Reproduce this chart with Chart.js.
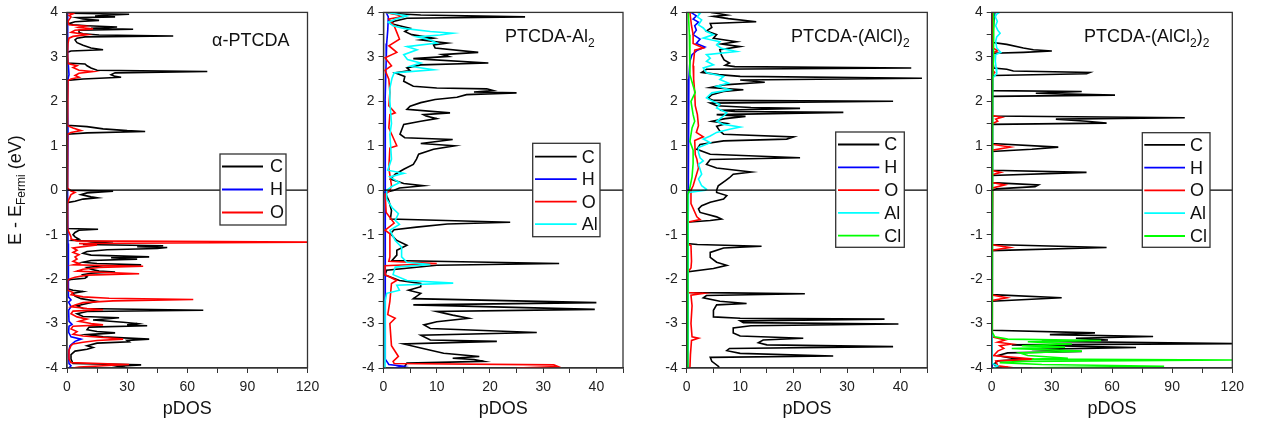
<!DOCTYPE html>
<html>
<head>
<meta charset="utf-8">
<title>pDOS</title>
<script src="https://cdn.jsdelivr.net/npm/chart.js@4.4.1/dist/chart.umd.min.js"></script>
<style>
    body { margin: 0; background: #fff; width: 1261px; height: 421px; overflow: hidden; position: relative; }
    canvas { position: absolute; top: 0; }
</style>
</head>
<body>
<canvas id="panel1"></canvas>
<canvas id="panel2"></canvas>
<canvas id="panel3"></canvas>
<canvas id="panel4"></canvas>
<script>
// Each series is a list of [energy (eV), pDOS] pairs, top (E = 4) to bottom (E = -4)

// ---- alpha-PTCDA ----
const alphaC = [[4.0,0],[3.98,2],[3.96,31],[3.94,22],[3.92,14],[3.9,24],[3.88,5],[3.85,8],[3.82,16],[3.79,4],[3.75,1],[3.72,3],[3.7,10],[3.67,25],[3.64,12],[3.62,33],[3.6,6],[3.55,6],[3.52,8],[3.49,16],[3.47,53],[3.45,9],[3.42,5],[3.38,4],[3.32,5],[3.26,8],[3.2,12],[3.16,18],[3.13,2],[3.1,0],
    [2.86,0],[2.84,9],[2.8,10],[2.75,12],[2.7,15],[2.67,70],[2.64,24],[2.6,22],[2.56,24],[2.54,27],[2.5,8],[2.47,0],
    [1.46,0],[1.43,10],[1.38,18],[1.34,30],[1.32,39],[1.29,10],[1.26,0],
    [0.02,0],[0,2],[-0.02,23],[-0.06,10],[-0.1,7],[-0.15,12],[-0.17,15],[-0.2,8],[-0.25,4],[-0.28,0],
    [-0.86,0],[-0.88,15.5],[-0.9,6],[-0.95,4],[-1.0,3],[-1.05,4],[-1.1,6],[-1.13,3],[-1.16,23],[-1.19,12],[-1.22,8],[-1.25,48],[-1.27,35],[-1.29,50],[-1.31,45],[-1.34,20],[-1.38,10],[-1.42,8],[-1.46,12],[-1.5,41],[-1.52,22],[-1.55,35],[-1.58,12],[-1.62,8],[-1.65,15],[-1.68,37],[-1.7,18],[-1.74,10],[-1.78,12],[-1.82,16],[-1.84,24],[-1.87,12],[-1.9,8],[-1.95,10],[-1.98,9],[-2.01,2],[-2.03,0],
    [-2.22,0],[-2.25,3],[-2.28,8],[-2.32,3],[-2.38,4],[-2.44,7],[-2.5,15],[-2.55,10],[-2.6,5],[-2.66,8],[-2.7,68],[-2.73,10],[-2.78,5],[-2.84,8],[-2.87,26],[-2.92,13],[-2.97,28],[-3.0,35],[-3.03,30],[-3.05,40],[-3.08,11],[-3.14,10],[-3.18,15],[-3.21,24],[-3.25,10],[-3.3,18],[-3.35,41],[-3.38,30],[-3.41,31],[-3.44,15],[-3.5,10],[-3.54,13],[-3.58,10],[-3.62,4],[-3.7,2],[-3.8,2],[-3.9,3],[-3.93,37],[-3.96,25],[-4.0,30]];
const alphaH = [[4,0.3],[3.5,0.3],[3.0,0.4],[2.6,1],[2.5,0.5],[2.0,0.3],[1.3,0.5],[0,0.3],[-1.2,0.5],[-1.7,0.8],[-2.0,0.5],[-2.4,0.8],[-2.47,2],[-2.52,0.8],[-2.62,2],[-2.7,0.8],[-2.95,1],[-3.02,2.5],[-3.06,1],[-3.2,0.8],[-3.3,2],[-3.35,7],[-3.4,4],[-3.5,1.5],[-3.6,1],[-3.7,0.8],[-3.9,1],[-3.95,2],[-4,1]];
const alphaO = [[4.0,0],[3.97,3],[3.93,1],[3.9,2],[3.8,0.5],[3.72,1],[3.69,9],[3.66,6],[3.63,13],[3.6,4],[3.55,2],[3.5,10],[3.46,3],[3.42,1],[3.3,0.5],[3.1,0.3],[2.85,0.5],[2.8,5],[2.76,3],[2.7,6],[2.67,13],[2.63,6],[2.58,4],[2.54,6],[2.5,2],[2.47,0.5],[1.45,0.3],[1.4,3],[1.34,7],[1.3,2],[1.26,0.3],[0.05,0.3],[-0.02,2],[-0.05,4],[-0.1,2],[-0.2,1],[-0.3,0.3],[-0.86,0.3],[-0.95,1],[-1.05,2],[-1.1,2],[-1.14,5],[-1.17,125],[-1.2,6],[-1.23,15],[-1.27,8],[-1.3,3],[-1.35,5],[-1.4,3],[-1.45,6],[-1.5,4],[-1.55,5],[-1.6,3],[-1.65,6],[-1.68,3],[-1.71,38],[-1.74,16],[-1.78,8],[-1.82,5],[-1.85,20],[-1.88,36],[-1.91,10],[-1.96,4],[-2.0,1],[-2.03,0.3],[-2.25,0.3],[-2.3,3],[-2.35,2],[-2.4,8],[-2.43,21],[-2.46,63],[-2.49,23],[-2.53,8],[-2.58,4],[-2.62,2],[-2.66,10],[-2.69,18],[-2.72,3],[-2.78,2],[-2.85,5],[-2.9,10],[-2.95,6],[-3.0,12],[-3.03,18],[-3.06,3],[-3.12,2],[-3.18,5],[-3.24,3],[-3.28,8],[-3.32,20],[-3.35,28],[-3.38,15],[-3.42,8],[-3.46,3],[-3.5,2],[-3.6,1],[-3.7,1],[-3.8,1],[-3.88,2],[-3.92,31],[-3.95,18],[-3.98,6],[-4.0,3]];

// ---- PTCDA-Al2 ----
const al2C = [[4.0,0.5],[3.98,1],[3.94,7],[3.9,26.6],[3.87,4.4],[3.8,2],[3.75,1.3],[3.7,3],[3.64,5],[3.57,4],[3.5,5.3],[3.42,9.4],[3.38,7],[3.31,12],[3.27,9.4],[3.2,9.7],[3.1,17.8],[3.05,11],[3.01,12.2],[2.96,5.6],[2.86,19.7],[2.82,7],[2.75,4.4],[2.69,5],[2.64,2.2],[2.56,4],[2.45,3.8],[2.34,5.6],[2.3,10],[2.28,19.4],[2.24,20.6],[2.21,17],[2.19,25],[2.15,15.6],[2.09,13.8],[2.04,9.7],[1.97,7],[1.89,5],[1.82,4.4],[1.74,12.5],[1.7,7.5],[1.67,8],[1.61,10],[1.55,7],[1.48,3.8],[1.26,3.1],[1.18,4],[1.14,13],[1.05,7],[1.0,13.4],[0.92,9.4],[0.81,6.6],[0.7,6.2],[0.58,5.6],[0.47,3.8],[0.36,2.2],[0.25,1.3],[0.15,3.8],[0.1,7.5],[0.05,3],[0,2],
    [-0.05,0.3],[-0.24,1],[-0.46,1.5],[-0.65,1.3],[-0.72,23.8],[-0.76,12],[-0.83,6.2],[-0.89,2],[-0.98,1.3],[-1.13,2.5],[-1.24,4.4],[-1.35,2.5],[-1.46,2.5],[-1.58,1.6],[-1.65,33],[-1.69,10],[-1.8,0.6],[-1.91,0.3],[-2.03,3],[-2.1,7],[-2.17,7],[-2.25,4.7],[-2.32,7],[-2.44,5.6],[-2.53,40],[-2.58,5.6],[-2.68,39.7],[-2.73,10],[-2.81,13],[-2.88,16],[-2.96,10],[-3.03,7.6],[-3.11,8.8],[-3.2,28.8],[-3.26,7],[-3.37,8.8],[-3.4,21.3],[-3.46,3.8],[-3.55,7],[-3.67,11.3],[-3.74,18],[-3.78,13],[-3.81,17],[-3.85,18.8],[-3.89,4.4],[-3.96,4],[-4.0,4]];
const al2H = [[4.0,0.5],[3.9,0.9],[3.6,0.8],[3.3,0.6],[2.9,0.5],[2.0,0.3],[0,0.3],[-2.0,0.3],[-3.8,0.4],[-3.92,1],[-3.96,3.8],[-4.0,2]];
const al2O = [[4.0,0.5],[3.95,2.5],[3.9,3.4],[3.85,1],[3.7,2],[3.55,2.5],[3.4,3],[3.25,1],[3.1,2.5],[2.98,0.3],[2.8,1.5],[2.7,0.3],[2.5,1],[2.2,1.2],[1.9,1],[1.74,2.2],[1.7,1.2],[1.4,1],[1.0,2.5],[0.95,1.2],[0.5,1],[0.1,1.5],[0.0,1.2],[-0.1,0.3],[-0.5,0.5],[-0.74,2],[-0.9,0.3],[-0.98,1.2],[-1.5,1.2],[-1.6,1],[-1.65,10],[-1.7,0.3],[-1.9,0.3],[-2.03,2.5],[-2.1,1.5],[-2.5,1.2],[-2.8,0.8],[-2.88,2.2],[-3.0,1.2],[-3.5,1.5],[-3.74,2.8],[-3.85,1.8],[-3.9,2],[-3.93,32],[-3.97,32.8],[-4.0,25]];
const al2Al = [[4.0,0.5],[3.98,1.5],[3.92,4.4],[3.86,2.5],[3.78,0.9],[3.7,1.8],[3.64,3.8],[3.57,8.8],[3.53,13],[3.49,10.6],[3.45,6.3],[3.38,8.8],[3.31,10],[3.23,4.4],[3.16,6.3],[3.05,3.8],[2.94,4.5],[2.86,7],[2.79,5],[2.71,9.4],[2.64,2],[2.52,1.6],[2.3,1.2],[2.0,1.2],[1.5,1.5],[1.25,1.2],[0.7,1.5],[0.45,0.8],[0.38,3.8],[0.3,1.2],[0.17,3],[0.1,1.8],[0,0.6],[-0.2,0.6],[-0.39,1.6],[-0.53,2.8],[-0.68,2.2],[-0.77,3],[-0.9,1.2],[-1.13,2.2],[-1.28,3.4],[-1.5,3.4],[-1.62,4.4],[-1.67,8.8],[-1.73,2.2],[-1.9,1.8],[-2.03,4.4],[-2.09,13.1],[-2.14,2.5],[-2.25,3],[-2.32,0.6],[-2.5,0.3],[-3.0,0.3],[-4.0,0.3]];

// ---- PTCDA-(AlCl)2 ----
const alclC = [[4.0,4.5],[3.98,5.6],[3.94,7.5],[3.91,5],[3.86,7.8],[3.79,13],[3.75,4.4],[3.66,4.7],[3.58,3.7],[3.5,5.6],[3.42,5],[3.34,9.3],[3.29,6.5],[3.23,10],[3.16,6.2],[3.04,6.5],[2.93,7],[2.86,8],[2.81,7.2],[2.78,9],[2.75,42],[2.72,3.7],[2.65,2.8],[2.6,6],[2.56,10],[2.52,44],[2.48,10],[2.43,14.6],[2.37,6.9],[2.31,4.4],[2.26,10.6],[2.22,6.9],[2.15,4.7],[2.07,4],[2.02,5],[2.0,38.6],[1.96,4.4],[1.9,5.6],[1.86,12],[1.84,21.2],[1.8,6.2],[1.77,9],[1.75,29.3],[1.7,5.6],[1.66,11],[1.61,7.2],[1.55,4.7],[1.5,7.5],[1.44,5.6],[1.33,6.2],[1.26,6.9],[1.2,20],[1.15,18.7],[1.11,6.9],[1.03,2.5],[0.92,1.9],[0.81,4.4],[0.73,21.2],[0.69,4.4],[0.58,3.7],[0.5,5.6],[0.41,12.1],[0.36,8.7],[0.28,8],[0.21,7.2],[0.1,5.9],[0,5.6],
    [-0.05,5.6],[-0.12,7.5],[-0.2,6.9],[-0.27,4.4],[-0.35,2.8],[-0.42,2.2],[-0.5,2.5],[-0.6,5.6],[-0.65,6.5],[-0.68,4.4],[-0.72,0],
    [-1.2,0],[-1.22,2],[-1.26,14],[-1.3,6.9],[-1.4,4.4],[-1.51,4.4],[-1.62,5.6],[-1.69,7.5],[-1.76,5],[-1.84,0],
    [-2.3,0],[-2.31,7.5],[-2.33,22.1],[-2.37,3.7],[-2.42,3.1],[-2.5,6.2],[-2.55,11.2],[-2.58,5.6],[-2.7,5],[-2.85,5],[-2.88,10],[-2.9,37],[-2.94,10],[-2.98,10.6],[-3.01,39.6],[-3.05,12],[-3.1,8.7],[-3.21,8.7],[-3.28,10],[-3.33,21.8],[-3.37,14.3],[-3.43,13.4],[-3.48,15],[-3.52,38.6],[-3.56,8],[-3.61,7.5],[-3.67,10],[-3.73,27.4],[-3.76,4.4],[-3.85,4.7],[-3.96,5.9],[-4.0,6]];
const alclH = [[4.0,0.8],[3.92,1.8],[3.85,1.2],[3.78,2.2],[3.7,1.5],[3.6,1.8],[3.5,1.2],[3.4,2.5],[3.3,1.8],[3.22,3.4],[3.15,2],[3.05,1],[2.9,0.6],[2.5,0.4],[2.0,0.3],[0,0.3],[-4,0.2]];
const alclO = [[4.0,0.6],[3.7,0.9],[3.5,1.2],[3.3,1.2],[3.2,3.1],[3.15,1.5],[2.8,1.2],[2.5,1.3],[2.2,1.5],[1.9,1.6],[1.7,2],[1.45,2.2],[1.3,1.8],[1.2,3.1],[1.12,1.5],[0.8,1.6],[0.7,1.9],[0.5,2.2],[0.1,1.2],[0,0.8],[-0.3,0.8],[-0.6,1.9],[-0.66,2.5],[-0.72,0.2],[-1.2,0.2],[-1.25,0.8],[-1.6,0.9],[-1.75,0.8],[-1.84,0.2],[-2.3,0.2],[-2.32,3.1],[-2.36,0.8],[-2.6,1],[-3.0,0.8],[-3.3,1],[-3.33,2.2],[-3.38,0.9],[-3.7,0.7],[-4.0,0.6]];
const alclAl = [[4.0,2],[3.98,2.5],[3.9,2],[3.83,2.8],[3.72,2.2],[3.65,3.1],[3.57,3.7],[3.5,5],[3.42,3.1],[3.34,6.2],[3.27,5.6],[3.19,6.5],[3.12,9.3],[3.05,3.7],[2.97,4.4],[2.9,3.7],[2.82,5],[2.75,3.1],[2.64,3.7],[2.56,6.9],[2.49,6.2],[2.41,7.8],[2.34,5.6],[2.26,8.1],[2.19,4.7],[2.08,3.7],[2.01,4.7],[1.93,6.2],[1.85,5.6],[1.74,7.5],[1.67,6.9],[1.55,5.6],[1.48,6.9],[1.42,10],[1.37,8],[1.3,5.6],[1.22,4.4],[1.15,3.1],[1.07,4.4],[0.96,2.2],[0.85,2.2],[0.73,2.5],[0.66,3.1],[0.58,2.2],[0.47,2.5],[0.36,2.8],[0.25,2.2],[0.1,2.8],[0.02,3.7],[0,3.5],[-0.05,0.3],[-4,0.2]];
const alclCl = [[4.0,0.3],[3.5,0.5],[3.0,0.6],[2.6,0.6],[2.35,1.2],[2.2,1.6],[2.0,0.8],[1.7,1.2],[1.55,1.5],[1.4,1],[1.1,0.6],[0.9,1.2],[0.6,1.2],[0.3,1],[0,0.5],[-0.1,0.2],[-4,0.2]];

// ---- PTCDA-(AlCl2)2 ----
const alcl2C = [[4.0,1.5],[3.9,1.2],[3.6,0.8],[3.32,0.8],[3.28,7.5],[3.2,15.8],[3.16,20.8],[3.13,30],[3.1,15.8],[3.08,0.8],[2.9,0.6],[2.75,1],[2.72,7.5],[2.68,10.8],[2.65,49],[2.62,47.3],[2.58,0.8],[2.5,0],
    [2.24,0],[2.22,44.9],[2.18,22],[2.14,61.5],[2.11,0],
    [1.67,0],[1.63,96.3],[1.6,32],[1.55,47.3],[1.51,57.3],[1.48,0],
    [1.05,0],[0.97,33.2],[0.92,20],[0.87,0],
    [0.45,0],[0.4,47.3],[0.33,0],
    [0.17,0],[0.12,23.3],[0.08,21.6],[0.03,2.5],[0.0,0],
    [-1.22,0],[-1.29,57.3],[-1.36,0],
    [-2.35,0],[-2.42,34.9],[-2.5,0],
    [-3.15,0],[-3.21,51.5],[-3.25,29],[-3.29,80.5],[-3.33,42],[-3.37,58],[-3.4,25],[-3.45,125],[-3.48,10],[-3.54,72],[-3.58,20],[-3.63,45],[-3.66,8],[-3.72,3],[-3.78,10],[-3.8,19.5],[-3.84,3],[-3.92,1],[-3.97,3],[-4.0,2]];
const alcl2H = [[4.0,1.5],[3.8,0.8],[3.5,0.5],[3.0,0.3],[0,0.2],[-4,0.2]];
const alcl2O = [[4.0,0.5],[3.2,0.5],[3.14,3],[3.1,1],[2.7,0.5],[2.65,1.5],[2.6,0.3],[1.68,0.3],[1.64,5],[1.6,2],[1.55,3],[1.5,0.3],[1.03,0.3],[0.97,9.3],[0.9,0.3],[0.44,0.3],[0.4,4.5],[0.35,0.3],[0.17,0.3],[0.12,6.6],[0.05,0.5],[0,0.3],[-1.23,0.3],[-1.29,9],[-1.35,0.3],[-2.36,0.3],[-2.42,7.5],[-2.48,0.3],[-3.3,0.3],[-3.37,6.6],[-3.42,3],[-3.46,10],[-3.5,4],[-3.56,6],[-3.62,3],[-3.72,1],[-3.8,21],[-3.84,2],[-3.95,3],[-3.98,8],[-4.0,5]];
const alcl2Al = [[4.0,4],[3.96,2.5],[3.9,1.8],[3.8,2.8],[3.7,2],[3.6,3],[3.53,4.2],[3.45,2.5],[3.35,2],[3.2,2.5],[3.1,4.5],[3.05,2],[2.9,1.8],[2.75,2.2],[2.62,2.5],[2.55,1],[2.5,0.3],[0,0.2],[-3.9,0.3],[-3.95,3],[-4.0,1]];
const alcl2Cl = [[4.0,1],[3.5,1],[3.0,0.8],[2.5,0.5],[0,0.3],[-3.2,0.3],[-3.3,1.5],[-3.35,8],[-3.38,54.6],[-3.41,18],[-3.46,40],[-3.5,15],[-3.53,36.6],[-3.56,10],[-3.62,45],[-3.66,14],[-3.72,18],[-3.78,38],[-3.8,20],[-3.82,125],[-3.85,15],[-3.88,4],[-3.92,25],[-3.96,86],[-3.99,30],[-4.0,20]];

// axis ranges / tick steps
const energyRange = [-4, 4];
const pdosMax = [120, 45, 45, 120];
const pdosMajor = [30, 10, 10, 30];
const pdosMinor = [15, 5, 5, 15];

const elementColors = { C: '#000000', H: '#0000ff', O: '#ff0000', Al: '#00ffff', Cl: '#00ff00' };
const FONT = "'Liberation Sans', Arial, sans-serif";

const panels = [
    { id: 'panel1', left: 0, axisW: 67, plotW: 240.5, padRight: 20,
      title: [['α-PTCDA', false]], titlePos: [212, 45.5],
      legend: { box: [220, 154, 66, 71], y0: 166.5, dy: 23, line: [222, 263], textX: 270 },
      yTitle: true,
      series: [['C', alphaC], ['H', alphaH], ['O', alphaO]] },
    { id: 'panel2', left: 320, axisW: 63.5, plotW: 239.5, padRight: 20,
      title: [['PTCDA-Al', false], ['2', true]], titlePos: [505, 42],
      legend: { box: [532.7, 143.3, 67.3, 93.4], y0: 156.7, dy: 22.5, line: [535, 576.7], textX: 581.7 },
      series: [['C', al2C], ['H', al2H], ['O', al2O], ['Al', al2Al]] },
    { id: 'panel3', left: 640, axisW: 46.7, plotW: 240.6, padRight: 22,
      title: [['PTCDA-(AlCl)', false], ['2', true]], titlePos: [791, 42],
      legend: { box: [835.7, 132, 68.6, 115.3], y0: 144.5, dy: 22.8, line: [838, 879.3], textX: 884.3 },
      series: [['C', alclC], ['H', alclH], ['O', alclO], ['Al', alclAl], ['Cl', alclCl]] },
    { id: 'panel4', left: 950, axisW: 41.7, plotW: 240.6, padRight: 28,
      title: [['PTCDA-(AlCl', false], ['2', true], [')', false], ['2', true]], titlePos: [1084, 42],
      legend: { box: [1142.3, 132.7, 67.7, 114.6], y0: 144.8, dy: 22.8, line: [1144.3, 1185], textX: 1190 },
      series: [['C', alcl2C], ['H', alcl2H], ['O', alcl2O], ['Al', alcl2Al], ['Cl', alcl2Cl]] }
];

// draws frame, zero line, panel title, legend and the y axis title
const decorPlugin = {
    id: 'decor',
    afterDraw(chart, args, opts) {
        const p = opts.panel;
        const ctx = chart.ctx;
        const a = chart.chartArea;
        const off = p.left;
        ctx.save();

        // zero line
        const y0 = chart.scales.y.getPixelForValue(0);
        ctx.strokeStyle = '#000';
        ctx.lineWidth = 1.3;
        ctx.beginPath();
        ctx.moveTo(a.left, y0);
        ctx.lineTo(a.right, y0);
        ctx.stroke();

        // frame
        ctx.strokeStyle = '#333';
        ctx.lineWidth = 1.3;
        ctx.strokeRect(a.left, a.top, a.right - a.left, a.bottom - a.top);

        // title with subscripts
        let tx = p.titlePos[0] - off;
        const ty = p.titlePos[1];
        ctx.fillStyle = '#111';
        ctx.textBaseline = 'alphabetic';
        ctx.textAlign = 'left';
        p.title.forEach(part => {
            ctx.font = (part[1] ? '12px ' : '18px ') + FONT;
            ctx.fillText(part[0], tx, part[1] ? ty + 5 : ty);
            tx += ctx.measureText(part[0]).width;
        });

        // legend
        const lg = p.legend;
        ctx.fillStyle = '#fff';
        ctx.fillRect(lg.box[0] - off, lg.box[1], lg.box[2], lg.box[3]);
        ctx.strokeStyle = '#333';
        ctx.lineWidth = 1.3;
        ctx.strokeRect(lg.box[0] - off, lg.box[1], lg.box[2], lg.box[3]);
        ctx.font = '18px ' + FONT;
        ctx.textBaseline = 'middle';
        p.series.forEach((s, i) => {
            const ly = lg.y0 + i * lg.dy;
            ctx.strokeStyle = elementColors[s[0]];
            ctx.lineWidth = 1.8;
            ctx.beginPath();
            ctx.moveTo(lg.line[0] - off, ly);
            ctx.lineTo(lg.line[1] - off, ly);
            ctx.stroke();
            ctx.fillStyle = '#111';
            ctx.fillText(s[0], lg.textX - off, ly + 1);
        });

        // y axis title (first panel only)
        if (p.yTitle) {
            ctx.translate(16, (a.top + a.bottom) / 2);
            ctx.rotate(-Math.PI / 2);
            const parts = [['E - E', false], ['Fermi', true], [' (eV)', false]];
            let w = 0;
            parts.forEach(part => {
                ctx.font = (part[1] ? '12px ' : '18px ') + FONT;
                w += ctx.measureText(part[0]).width;
            });
            let x = -w / 2;
            ctx.textBaseline = 'middle';
            parts.forEach(part => {
                ctx.font = (part[1] ? '12px ' : '18px ') + FONT;
                ctx.fillText(part[0], x, part[1] ? 6 : 0);
                x += ctx.measureText(part[0]).width;
            });
        }
        ctx.restore();
    }
};

function makePanel(p, idx) {
    const canvas = document.getElementById(p.id);
    canvas.width = Math.round(p.axisW + p.plotW + p.padRight);
    canvas.height = 421;
    canvas.style.left = p.left + 'px';

    const datasets = p.series.map((s, i) => ({
        label: s[0],
        data: s[1].map(pt => ({ x: pt[1], y: pt[0] })),
        showLine: true,
        borderColor: elementColors[s[0]],
        backgroundColor: elementColors[s[0]],
        borderWidth: 1.6,
        pointRadius: 0,
        tension: 0,
        order: p.series.length - i
    }));

    new Chart(canvas, {
        type: 'scatter',
        data: { datasets: datasets },
        options: {
            responsive: false,
            animation: false,
            events: [],
            layout: { padding: { top: 11, right: canvas.width - p.axisW - p.plotW, bottom: 0, left: 0 } },
            plugins: {
                legend: { display: false },
                tooltip: { enabled: false },
                decor: { panel: p }
            },
            scales: {
                x: {
                    type: 'linear',
                    min: 0,
                    max: pdosMax[idx],
                    afterFit: scale => { scale.height = 53; },
                    ticks: {
                        stepSize: pdosMinor[idx],
                        autoSkip: false,
                        maxRotation: 0,
                        padding: 6,
                        color: '#222',
                        font: { family: FONT, size: 14 },
                        callback: v => (v % pdosMajor[idx] === 0 ? String(v) : '')
                    },
                    grid: { drawOnChartArea: false, drawTicks: true, tickLength: 5, color: '#333' },
                    border: { color: '#333', width: 1.3 },
                    title: {
                        display: true,
                        text: 'pDOS',
                        color: '#111',
                        font: { family: FONT, size: 18 },
                        padding: { top: 0, bottom: 1 }
                    }
                },
                y: {
                    type: 'linear',
                    min: energyRange[0],
                    max: energyRange[1],
                    afterFit: scale => { scale.width = p.axisW; },
                    ticks: {
                        stepSize: 0.5,
                        autoSkip: false,
                        padding: 4,
                        color: '#222',
                        font: { family: FONT, size: 14 },
                        callback: v => (Number.isInteger(v) ? String(v) : '')
                    },
                    grid: { drawOnChartArea: false, drawTicks: true, tickLength: 5, color: '#333' },
                    border: { color: '#333', width: 1.3 }
                }
            }
        },
        plugins: [decorPlugin]
    });
}

panels.forEach(makePanel);
</script>
</body>
</html>
